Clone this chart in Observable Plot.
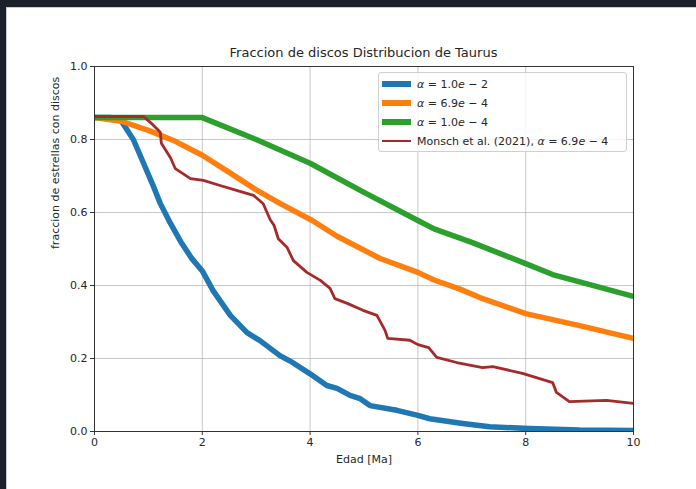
<!DOCTYPE html>
<html>
<head>
<meta charset="utf-8">
<script src="https://cdn.jsdelivr.net/npm/d3@7"></script>
<script src="https://cdn.jsdelivr.net/npm/@observablehq/plot@0.6"></script>
<style>
  html, body { margin: 0; padding: 0; }
  body {
    width: 696px; height: 489px; overflow: hidden; position: relative;
    background: #1b202b; font-family: "DejaVu Sans", sans-serif; color: #262626;
  }
  #panel {
    position: absolute; left: 6px; top: 7px; right: 0; bottom: 0;
    background: #ffffff; border-left: 1px solid #c9ccd2; border-top: 1px solid #c9ccd2;
  }
  #chart { position: absolute; left: 0; top: 0; }
  #title {
    position: absolute; left: 94px; width: 539px; top: 45px;
    text-align: center; font-size: 13px; line-height: 16px; color: #262626;
  }
  #legend {
    position: absolute; left: 378px; top: 72px; width: 247px; height: 78px;
    border: 1px solid #d0d0d0; border-radius: 3px; background: rgba(255,255,255,0.8);
    font-size: 11px;
  }
  .row { position: absolute; left: 0; height: 19px; display: flex; align-items: center; white-space: nowrap; }
  .sw { width: 29px; margin-left: 3px; margin-right: 6px; }
  .row i { font-style: italic; }
</style>
</head>
<body>
<div id="panel"></div>
<div id="chart"></div>
<div id="title">Fraccion de discos Distribucion de Taurus</div>
<div id="legend"></div>
<script>
// Fraction of stars still hosting a disc versus age, Taurus distribution.
// Each series is a list of [age in Ma, disc fraction] pairs.
const alphaHigh = [
  [0, 0.86], [0.3, 0.86], [0.5, 0.85], [0.72, 0.80], [0.91, 0.735], [1.07, 0.68],
  [1.22, 0.625], [1.41, 0.57], [1.6, 0.52], [1.8, 0.475], [2.0, 0.44], [2.2, 0.386],
  [2.52, 0.318], [2.83, 0.271], [3.07, 0.249], [3.44, 0.208], [3.63, 0.193],
  [4.0, 0.158], [4.31, 0.126], [4.5, 0.118], [4.74, 0.099], [4.93, 0.09],
  [5.11, 0.071], [5.61, 0.058], [6.0, 0.044], [6.22, 0.035], [6.54, 0.028],
  [6.83, 0.022], [7.33, 0.013], [8.07, 0.008], [9.0, 0.004], [10, 0.003]
];
const alphaMid = [
  [0, 0.86], [0.5, 0.85], [1.0, 0.825], [1.5, 0.795], [2.0, 0.757], [2.5, 0.71],
  [3.0, 0.662], [3.44, 0.625], [4.04, 0.578], [4.5, 0.535], [5.3, 0.474],
  [6.0, 0.436], [6.3, 0.415], [6.78, 0.39], [7.15, 0.367], [8.0, 0.323],
  [9.0, 0.29], [10, 0.255]
];
const alphaLow = [
  [0, 0.86], [2.0, 0.86], [3.0, 0.80], [4.0, 0.735], [5.0, 0.655], [6.0, 0.578],
  [6.3, 0.555], [7.0, 0.518], [8.0, 0.46], [8.5, 0.43], [9.0, 0.41], [10, 0.37]
];
const monsch = [
  [0, 0.863], [0.91, 0.863], [1.05, 0.845], [1.22, 0.82], [1.24, 0.79], [1.41, 0.75],
  [1.5, 0.72], [1.78, 0.693], [2.02, 0.688], [2.33, 0.674], [2.65, 0.66],
  [2.95, 0.647], [3.13, 0.624], [3.26, 0.58], [3.33, 0.565], [3.41, 0.528],
  [3.57, 0.505], [3.69, 0.468], [3.94, 0.436], [4.19, 0.414], [4.37, 0.392],
  [4.46, 0.364], [4.69, 0.351], [4.98, 0.332], [5.24, 0.318], [5.39, 0.277],
  [5.44, 0.255], [5.85, 0.25], [6.0, 0.238], [6.2, 0.23], [6.35, 0.203],
  [6.72, 0.189], [7.2, 0.175], [7.39, 0.178], [7.94, 0.159], [8.5, 0.134],
  [8.57, 0.107], [8.81, 0.082], [9.5, 0.085], [10, 0.077]
];

const xTicks = [0, 2, 4, 6, 8, 10];
const yTicks = [0, 0.2, 0.4, 0.6, 0.8, 1.0];

const series = [
  {data: alphaHigh, color: "#1f77b4", width: 5.5, label: '<i>α</i> = 1.0<i>e</i> − 2'},
  {data: alphaMid,  color: "#ff7f0e", width: 5.5, label: '<i>α</i> = 6.9<i>e</i> − 4'},
  {data: alphaLow,  color: "#2ca02c", width: 5.5, label: '<i>α</i> = 1.0<i>e</i> − 4'},
  {data: monsch,    color: "#a52a2a", width: 2.8, label: 'Monsch et al. (2021), <i>α</i> = 6.9<i>e</i> − 4'}
];

const chart = Plot.plot({
  width: 696,
  height: 489,
  marginLeft: 94,
  marginRight: 63,
  marginTop: 66,
  marginBottom: 58,
  style: {background: "transparent", fontFamily: "DejaVu Sans", fontSize: "11px", color: "#262626"},
  x: {domain: [0, 10]},
  y: {domain: [0, 1]},
  marks: [
    Plot.gridX(xTicks, {stroke: "#b0b0b0", strokeOpacity: 0.7, strokeWidth: 1}),
    Plot.gridY(yTicks, {stroke: "#b0b0b0", strokeOpacity: 0.7, strokeWidth: 1}),
    ...series.map(s => Plot.line(s.data, {
      x: d => d[0], y: d => d[1], stroke: s.color, strokeWidth: s.width,
      strokeLinejoin: "round", strokeLinecap: "butt", clip: true
    })),
    Plot.frame({stroke: "#333333", strokeWidth: 1}),
    Plot.axisX(xTicks, {tickSize: 4, tickPadding: 3, tickFormat: d => String(d), label: null, fontSize: 11, stroke: "#333"}),
    Plot.axisY(yTicks, {tickSize: 4, tickPadding: 3, tickFormat: d => d.toFixed(1), label: null, fontSize: 11, stroke: "#333"}),
    Plot.text(["Edad [Ma]"], {frameAnchor: "bottom", dy: 31, fontSize: 11, fill: "#262626"}),
    Plot.text(["fraccion de estrellas con discos"], {frameAnchor: "left", dx: -39, rotate: -90, fontSize: 11, fill: "#262626"})
  ]
});
document.getElementById("chart").appendChild(chart);

// Legend rows
const legend = document.getElementById("legend");
series.forEach((s, i) => {
  const row = document.createElement("div");
  row.className = "row";
  row.style.top = (1.5 + i * 19) + "px";
  const sw = document.createElement("div");
  sw.className = "sw";
  sw.style.height = s.width + "px";
  sw.style.background = s.color;
  const txt = document.createElement("span");
  txt.innerHTML = s.label;
  row.appendChild(sw);
  row.appendChild(txt);
  legend.appendChild(row);
});
</script>
</body>
</html>
